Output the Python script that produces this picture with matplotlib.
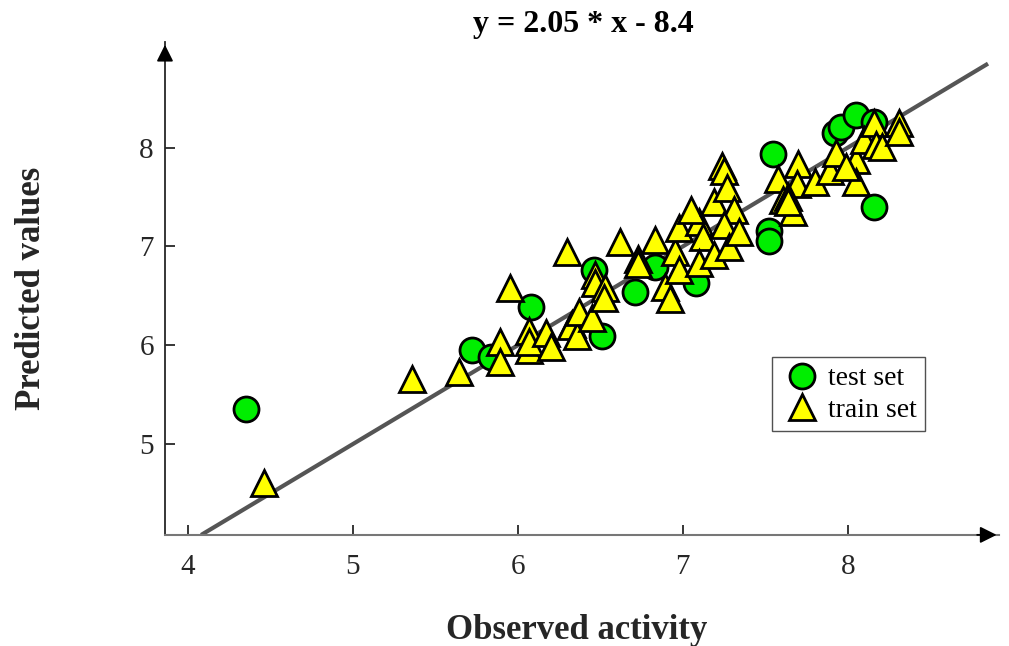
import matplotlib
matplotlib.use('Agg')
import matplotlib.pyplot as plt

# Dados
test_x = [4.35, 5.72, 5.84, 6.08, 6.51, 6.46, 6.71, 6.83, 7.08, 7.55, 7.52, 7.52,
          8.16, 7.92, 7.96, 8.05, 8.16]
test_y = [5.35, 5.95, 5.88, 6.39, 6.09, 6.76, 6.54, 6.79, 6.63, 7.94, 7.16, 7.06,
          7.40, 8.15, 8.21, 8.33, 8.26]

train_x = [4.46, 5.36, 5.64, 5.95, 5.89, 5.89, 6.07, 6.07, 6.07, 6.17, 6.20, 6.30,
           6.33, 6.32, 6.36, 6.37, 6.45, 6.47, 6.47, 6.53, 6.52, 6.62, 6.73, 6.73,
           6.83, 6.89, 6.92, 6.95, 6.98, 6.98, 7.10, 7.05, 7.12, 7.10, 7.19, 7.19,
           7.24, 7.25, 7.27, 7.31, 7.25, 7.28, 7.34, 7.58, 7.61, 7.67, 7.70, 7.69,
           7.64, 7.64, 7.80, 7.89, 7.93, 8.05, 8.05, 8.10, 8.16, 8.17, 8.21, 8.31,
           8.31, 7.99]
train_y = [4.61, 5.66, 5.73, 6.58, 6.03, 5.83, 6.14, 5.95, 6.03, 6.12, 5.98, 6.94,
           6.21, 6.19, 6.09, 6.34, 6.28, 6.71, 6.63, 6.58, 6.48, 7.05, 6.87, 6.82,
           7.07, 6.59, 6.47, 6.94, 7.19, 6.76, 7.25, 7.37, 7.10, 6.83, 6.91, 7.45,
           7.81, 7.76, 7.59, 7.37, 7.22, 6.99, 7.15, 7.68, 7.47, 7.35, 7.83, 7.63,
           7.50, 7.45, 7.65, 7.76, 7.95, 7.88, 7.65, 8.08, 8.25, 8.03, 8.01, 8.25,
           8.16, 7.80]

fit_x = [4.09, 8.84]
fit_y = [4.09, 8.84]

plt.rcParams['font.family'] = ['Liberation Serif', 'DejaVu Serif']

fig = plt.figure(figsize=(10.09, 6.46), dpi=100)
ax = fig.add_axes([0.1635, 0.172, 0.827, 0.763])

ax.plot(fit_x, fit_y, color='#555555', linewidth=3, zorder=1)
ax.plot(test_x, test_y, 'o', markersize=18, markerfacecolor='#00ee00',
        markeredgecolor='black', markeredgewidth=2, label='test set', zorder=2)
ax.plot(train_x, train_y, '^', markersize=19, markerfacecolor='#ffff00',
        markeredgecolor='black', markeredgewidth=2, label='train set', zorder=3)

ax.set_xlim(3.86, 8.92)
ax.set_ylim(4.08, 9.07)
ax.set_xticks([4, 5, 6, 7, 8])
ax.set_yticks([5, 6, 7, 8])
ax.tick_params(direction='in', length=7, width=1.3, labelsize=21, colors='#262626')
ax.tick_params(axis='x', pad=14)
ax.tick_params(axis='y', pad=8)

for s in ['top', 'right']:
    ax.spines[s].set_visible(False)
ax.spines['left'].set_color('#262626')
ax.spines['bottom'].set_color('#777777')
ax.spines['left'].set_linewidth(1.3)
ax.spines['bottom'].set_linewidth(1.5)

# setas nos eixos
ax.annotate('', xy=(0, 1.0), xytext=(0, 0.96), xycoords='axes fraction',
            arrowprops=dict(arrowstyle='-|>', color='black', lw=1.3, mutation_scale=25))
ax.annotate('', xy=(1.0, 0), xytext=(0.97, 0), xycoords='axes fraction',
            arrowprops=dict(arrowstyle='-|>', color='black', lw=1.3, mutation_scale=25))

ax.set_xlabel('Observed activity', fontsize=25, fontweight='bold', color='#262626')
ax.xaxis.set_label_coords(0.494, -0.16)
ax.set_ylabel('Predicted values', fontsize=25, fontweight='bold', color='#262626')
ax.yaxis.set_label_coords(-0.14, 0.5)
fig.text(0.5785, 0.962, 'y = 2.05 * x - 8.4', fontsize=23, fontweight='bold',
         ha='center', va='center')

leg = ax.legend(loc='upper left', bbox_to_anchor=(0.728, 0.36), fontsize=20,
                frameon=True, fancybox=False, edgecolor='#262626', borderpad=0.3,
                handletextpad=0.2, labelspacing=0.22, markerscale=1.0, handlelength=1.5,
                borderaxespad=0)
leg.get_frame().set_linewidth(1.0)

fig.savefig('out.png', dpi=100)
